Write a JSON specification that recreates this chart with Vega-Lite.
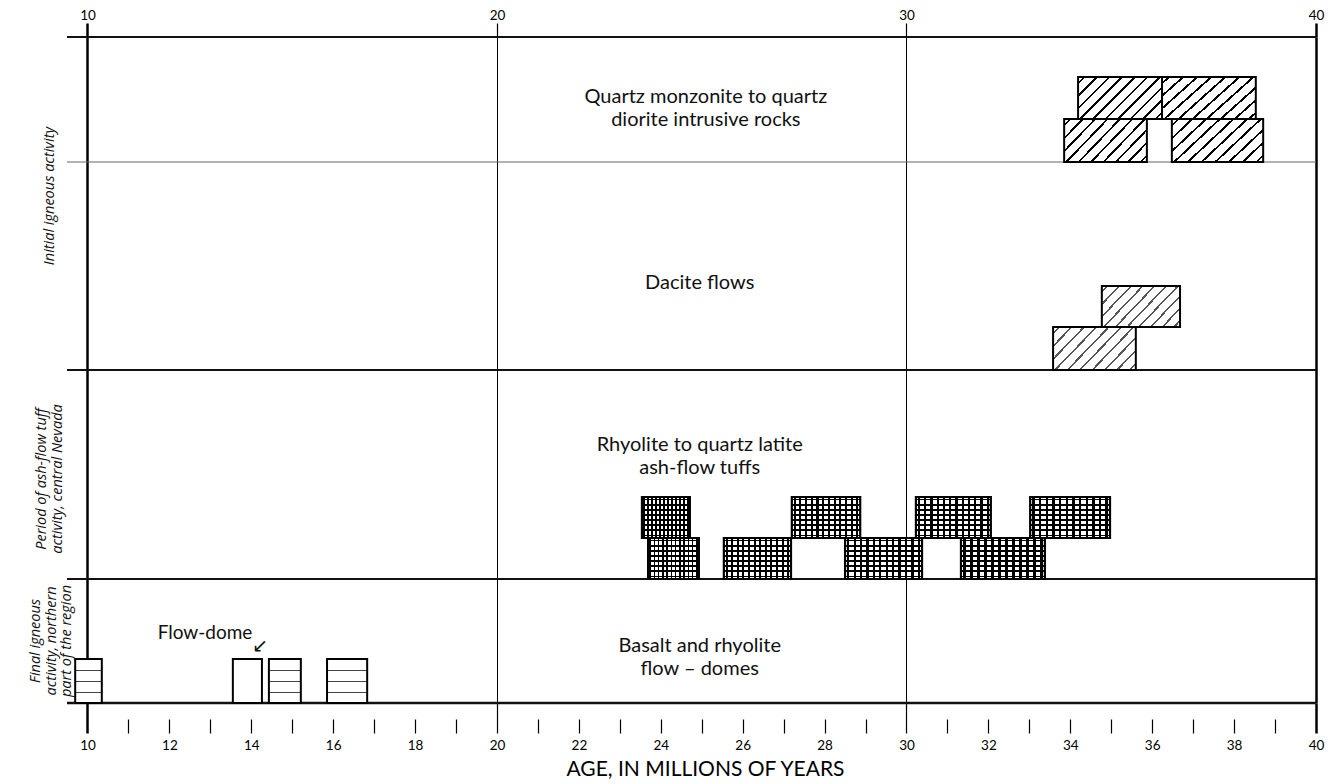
{
  "$schema": "https://vega.github.io/schema/vega-lite/v6.json",
  "width": 1249,
  "height": 666,
  "autosize": "none",
  "padding": {"left": 67, "top": 37, "right": 23, "bottom": 81},
  "background": "white",
  "config": {"view": {"stroke": null}, "font": "Lato"},
  "resolve": {"axis": {"x": "independent"}},
  "datasets": {
    "edges": [{"edge": 0}, {"edge": 124}, {"edge": 333}, {"edge": 541}, {"edge": 666}],
    "boxes": [
      {"rock": "quartz", "start": 34.19, "end": 36.24, "lo": 584, "hi": 626},
      {"rock": "quartz", "start": 36.24, "end": 38.53, "lo": 584, "hi": 626},
      {"rock": "quartz", "start": 33.85, "end": 35.87, "lo": 541, "hi": 584},
      {"rock": "quartz", "start": 36.48, "end": 38.71, "lo": 541, "hi": 584},
      {"rock": "dacite", "start": 34.77, "end": 36.68, "lo": 376, "hi": 417},
      {"rock": "dacite", "start": 33.58, "end": 35.6, "lo": 333, "hi": 376},
      {"rock": "ash", "start": 23.54, "end": 24.71, "lo": 165, "hi": 206},
      {"rock": "ash", "start": 27.2, "end": 28.87, "lo": 165, "hi": 206},
      {"rock": "ash", "start": 30.23, "end": 32.06, "lo": 165, "hi": 206},
      {"rock": "ash", "start": 33.02, "end": 34.97, "lo": 165, "hi": 206},
      {"rock": "ash", "start": 23.69, "end": 24.93, "lo": 124, "hi": 165},
      {"rock": "ash", "start": 25.54, "end": 27.18, "lo": 124, "hi": 165},
      {"rock": "ash", "start": 28.5, "end": 30.38, "lo": 124, "hi": 165},
      {"rock": "ash", "start": 31.33, "end": 33.38, "lo": 124, "hi": 165},
      {"rock": "final", "start": 9.7, "end": 10.35, "lo": 0, "hi": 44},
      {"rock": "final", "start": 14.43, "end": 15.21, "lo": 0, "hi": 44},
      {"rock": "final", "start": 15.85, "end": 16.83, "lo": 0, "hi": 44},
      {"rock": "dome", "start": 13.55, "end": 14.26, "lo": 0, "hi": 44}
    ],
    "regions": [
      {"text": ["Quartz monzonite to quartz", "diorite intrusive rocks"], "age": 25.1, "y": 606},
      {"text": ["Dacite flows"], "age": 24.95, "y": 420},
      {"text": ["Rhyolite to quartz latite", "ash-flow tuffs"], "age": 24.95, "y": 258},
      {"text": ["Basalt and rhyolite", "flow – domes"], "age": 24.95, "y": 57}
    ],
    "sides": [
      {"text": ["Initial igneous activity"], "age": 9.085, "y": 507},
      {"text": ["Period of ash-flow tuff", "activity, central Nevada"], "age": 8.9, "y": 224},
      {"text": ["Final igneous", "activity, northern", "part of the region"], "age": 8.743, "y": 62}
    ],
    "callout": [{"text": "Flow-dome", "age": 12.87, "y": 70}],
    "arrow": [{"text": "↙", "age": 14.22, "y": 57}]
  },
  "layer": [
    {
      "data": {"name": "edges"},
      "mark": {"type": "rule"},
      "encoding": {
        "y": {"field": "edge", "type": "quantitative", "scale": {"domain": [0, 666], "nice": false, "zero": false}, "axis": null},
        "strokeWidth": {"condition": [{"test": "datum.edge === 541", "value": 1.2}, {"test": "datum.edge === 0", "value": 2.5}], "value": 1.8},
        "color": {"condition": {"test": "datum.edge === 541", "value": "#666"}, "value": "#111"}
      }
    },
    {
      "data": {"name": "boxes"},
      "transform": [{"filter": "datum.rock === 'quartz'"}],
      "mark": {
        "type": "rect", "stroke": "#000", "strokeWidth": 2,
        "fill": {"gradient": "linear", "x1": 0, "y1": 0, "x2": 1.2, "y2": 0.6, "stops": [
          {"offset": 0, "color": "#fff"},
          {"offset": 0.04, "color": "#fff"}, {"offset": 0.04, "color": "#000"}, {"offset": 0.06, "color": "#000"}, {"offset": 0.06, "color": "#fff"},
          {"offset": 0.14, "color": "#fff"}, {"offset": 0.14, "color": "#000"}, {"offset": 0.16, "color": "#000"}, {"offset": 0.16, "color": "#fff"},
          {"offset": 0.24, "color": "#fff"}, {"offset": 0.24, "color": "#000"}, {"offset": 0.26, "color": "#000"}, {"offset": 0.26, "color": "#fff"},
          {"offset": 0.34, "color": "#fff"}, {"offset": 0.34, "color": "#000"}, {"offset": 0.36, "color": "#000"}, {"offset": 0.36, "color": "#fff"},
          {"offset": 0.44, "color": "#fff"}, {"offset": 0.44, "color": "#000"}, {"offset": 0.46, "color": "#000"}, {"offset": 0.46, "color": "#fff"},
          {"offset": 0.54, "color": "#fff"}, {"offset": 0.54, "color": "#000"}, {"offset": 0.56, "color": "#000"}, {"offset": 0.56, "color": "#fff"},
          {"offset": 0.64, "color": "#fff"}, {"offset": 0.64, "color": "#000"}, {"offset": 0.66, "color": "#000"}, {"offset": 0.66, "color": "#fff"},
          {"offset": 0.74, "color": "#fff"}, {"offset": 0.74, "color": "#000"}, {"offset": 0.76, "color": "#000"}, {"offset": 0.76, "color": "#fff"},
          {"offset": 0.84, "color": "#fff"}, {"offset": 0.84, "color": "#000"}, {"offset": 0.86, "color": "#000"}, {"offset": 0.86, "color": "#fff"},
          {"offset": 0.94, "color": "#fff"}, {"offset": 0.94, "color": "#000"}, {"offset": 0.96, "color": "#000"}, {"offset": 0.96, "color": "#fff"},
          {"offset": 1, "color": "#fff"}
        ]}
      },
      "encoding": {
        "x": {"field": "start", "type": "quantitative", "scale": {"domain": [9.5, 40], "nice": false, "zero": false},
          "axis": {
            "orient": "bottom",
            "values": [10, 11, 12, 13, 14, 15, 16, 17, 18, 19, 20, 21, 22, 23, 24, 25, 26, 27, 28, 29, 30, 31, 32, 33, 34, 35, 36, 37, 38, 39, 40],
            "domain": false, "grid": false,
            "tickSize": 30, "tickColor": "#000",
            "tickWidth": {"condition": {"test": "datum.value === 10 || datum.value === 40", "value": 2.5}, "value": 1.2},
            "tickDash": {"condition": {"test": "datum.value % 10 === 0", "value": []}, "value": [0, 16, 14]},
            "labelExpr": "datum.value % 2 === 0 ? datum.label : ''",
            "labelOverlap": false, "labelFlush": false,
            "labelFontSize": 13.5, "labelColor": "#000", "labelPadding": 5, "labelFont": "Lato",
            "title": "AGE, IN MILLIONS OF YEARS", "titleFont": "Lato", "titleFontSize": 21, "titleFontWeight": "normal",
            "titleColor": "#000", "titlePadding": 7, "titleX": 638
          }
        },
        "x2": {"field": "end"},
        "y": {"field": "lo", "type": "quantitative", "axis": null},
        "y2": {"field": "hi"}
      }
    },
    {
      "data": {"name": "boxes"},
      "transform": [{"filter": "datum.rock === 'dacite'"}],
      "mark": {
        "type": "rect", "stroke": "#000", "strokeWidth": 2,
        "fill": {"gradient": "linear", "x1": 0, "y1": 0, "x2": 1.2, "y2": 0.6, "stops": [
          {"offset": 0, "color": "#fff"},
          {"offset": 0.04, "color": "#fff"}, {"offset": 0.04, "color": "#555"}, {"offset": 0.058, "color": "#555"}, {"offset": 0.058, "color": "#fff"},
          {"offset": 0.14, "color": "#fff"}, {"offset": 0.14, "color": "#555"}, {"offset": 0.158, "color": "#555"}, {"offset": 0.158, "color": "#fff"},
          {"offset": 0.24, "color": "#fff"}, {"offset": 0.24, "color": "#555"}, {"offset": 0.258, "color": "#555"}, {"offset": 0.258, "color": "#fff"},
          {"offset": 0.34, "color": "#fff"}, {"offset": 0.34, "color": "#555"}, {"offset": 0.358, "color": "#555"}, {"offset": 0.358, "color": "#fff"},
          {"offset": 0.44, "color": "#fff"}, {"offset": 0.44, "color": "#555"}, {"offset": 0.458, "color": "#555"}, {"offset": 0.458, "color": "#fff"},
          {"offset": 0.54, "color": "#fff"}, {"offset": 0.54, "color": "#555"}, {"offset": 0.558, "color": "#555"}, {"offset": 0.558, "color": "#fff"},
          {"offset": 0.64, "color": "#fff"}, {"offset": 0.64, "color": "#555"}, {"offset": 0.658, "color": "#555"}, {"offset": 0.658, "color": "#fff"},
          {"offset": 0.74, "color": "#fff"}, {"offset": 0.74, "color": "#555"}, {"offset": 0.758, "color": "#555"}, {"offset": 0.758, "color": "#fff"},
          {"offset": 0.84, "color": "#fff"}, {"offset": 0.84, "color": "#555"}, {"offset": 0.858, "color": "#555"}, {"offset": 0.858, "color": "#fff"},
          {"offset": 0.94, "color": "#fff"}, {"offset": 0.94, "color": "#555"}, {"offset": 0.958, "color": "#555"}, {"offset": 0.958, "color": "#fff"},
          {"offset": 1, "color": "#fff"}
        ]}
      },
      "encoding": {
        "x": {"field": "start", "type": "quantitative",
          "axis": {
            "orient": "top", "values": [10, 20, 30, 40], "domain": false,
            "grid": true, "gridColor": "#000", "gridOpacity": 1,
            "gridWidth": {"condition": {"test": "datum.value === 10 || datum.value === 40", "value": 2.5}, "value": 1},
            "tickSize": 14, "tickColor": "#000",
            "tickWidth": {"condition": {"test": "datum.value === 10 || datum.value === 40", "value": 2.5}, "value": 1.2},
            "labelFontSize": 13.5, "labelPadding": 1, "labelColor": "#000", "labelFont": "Lato", "labelFlush": false,
            "title": null
          }
        },
        "x2": {"field": "end"},
        "y": {"field": "lo", "type": "quantitative", "axis": null},
        "y2": {"field": "hi"}
      }
    },
    {
      "data": {"name": "boxes"},
      "transform": [{"filter": "datum.rock === 'ash'"}],
      "mark": {
        "type": "rect", "strokeWidth": 0,
        "fill": {"gradient": "linear", "x1": 0, "y1": 0, "x2": 1, "y2": 0, "stops": [
          {"offset": 0, "color": "#fff"},
          {"offset": 0.027, "color": "#fff"}, {"offset": 0.027, "color": "#000"}, {"offset": 0.057, "color": "#000"}, {"offset": 0.057, "color": "#fff"},
          {"offset": 0.11, "color": "#fff"}, {"offset": 0.11, "color": "#000"}, {"offset": 0.14, "color": "#000"}, {"offset": 0.14, "color": "#fff"},
          {"offset": 0.193, "color": "#fff"}, {"offset": 0.193, "color": "#000"}, {"offset": 0.223, "color": "#000"}, {"offset": 0.223, "color": "#fff"},
          {"offset": 0.277, "color": "#fff"}, {"offset": 0.277, "color": "#000"}, {"offset": 0.307, "color": "#000"}, {"offset": 0.307, "color": "#fff"},
          {"offset": 0.36, "color": "#fff"}, {"offset": 0.36, "color": "#000"}, {"offset": 0.39, "color": "#000"}, {"offset": 0.39, "color": "#fff"},
          {"offset": 0.443, "color": "#fff"}, {"offset": 0.443, "color": "#000"}, {"offset": 0.473, "color": "#000"}, {"offset": 0.473, "color": "#fff"},
          {"offset": 0.527, "color": "#fff"}, {"offset": 0.527, "color": "#000"}, {"offset": 0.557, "color": "#000"}, {"offset": 0.557, "color": "#fff"},
          {"offset": 0.61, "color": "#fff"}, {"offset": 0.61, "color": "#000"}, {"offset": 0.64, "color": "#000"}, {"offset": 0.64, "color": "#fff"},
          {"offset": 0.693, "color": "#fff"}, {"offset": 0.693, "color": "#000"}, {"offset": 0.723, "color": "#000"}, {"offset": 0.723, "color": "#fff"},
          {"offset": 0.777, "color": "#fff"}, {"offset": 0.777, "color": "#000"}, {"offset": 0.807, "color": "#000"}, {"offset": 0.807, "color": "#fff"},
          {"offset": 0.86, "color": "#fff"}, {"offset": 0.86, "color": "#000"}, {"offset": 0.89, "color": "#000"}, {"offset": 0.89, "color": "#fff"},
          {"offset": 0.943, "color": "#fff"}, {"offset": 0.943, "color": "#000"}, {"offset": 0.973, "color": "#000"}, {"offset": 0.973, "color": "#fff"},
          {"offset": 1, "color": "#fff"}
        ]}
      },
      "encoding": {
        "x": {"field": "start", "type": "quantitative", "axis": null},
        "x2": {"field": "end"},
        "y": {"field": "lo", "type": "quantitative", "axis": null},
        "y2": {"field": "hi"}
      }
    },
    {
      "data": {"name": "boxes"},
      "transform": [{"filter": "datum.rock === 'ash'"}],
      "mark": {
        "type": "rect", "stroke": "#000", "strokeWidth": 2.2,
        "fill": {"gradient": "linear", "x1": 0, "y1": 0, "x2": 0, "y2": 1, "stops": [
          {"offset": 0, "color": "rgba(0,0,0,0)"},
          {"offset": 0.04, "color": "rgba(0,0,0,0)"}, {"offset": 0.04, "color": "#000"}, {"offset": 0.085, "color": "#000"}, {"offset": 0.085, "color": "rgba(0,0,0,0)"},
          {"offset": 0.165, "color": "rgba(0,0,0,0)"}, {"offset": 0.165, "color": "#000"}, {"offset": 0.21, "color": "#000"}, {"offset": 0.21, "color": "rgba(0,0,0,0)"},
          {"offset": 0.29, "color": "rgba(0,0,0,0)"}, {"offset": 0.29, "color": "#000"}, {"offset": 0.335, "color": "#000"}, {"offset": 0.335, "color": "rgba(0,0,0,0)"},
          {"offset": 0.415, "color": "rgba(0,0,0,0)"}, {"offset": 0.415, "color": "#000"}, {"offset": 0.46, "color": "#000"}, {"offset": 0.46, "color": "rgba(0,0,0,0)"},
          {"offset": 0.54, "color": "rgba(0,0,0,0)"}, {"offset": 0.54, "color": "#000"}, {"offset": 0.585, "color": "#000"}, {"offset": 0.585, "color": "rgba(0,0,0,0)"},
          {"offset": 0.665, "color": "rgba(0,0,0,0)"}, {"offset": 0.665, "color": "#000"}, {"offset": 0.71, "color": "#000"}, {"offset": 0.71, "color": "rgba(0,0,0,0)"},
          {"offset": 0.79, "color": "rgba(0,0,0,0)"}, {"offset": 0.79, "color": "#000"}, {"offset": 0.835, "color": "#000"}, {"offset": 0.835, "color": "rgba(0,0,0,0)"},
          {"offset": 0.915, "color": "rgba(0,0,0,0)"}, {"offset": 0.915, "color": "#000"}, {"offset": 0.96, "color": "#000"}, {"offset": 0.96, "color": "rgba(0,0,0,0)"},
          {"offset": 1, "color": "rgba(0,0,0,0)"}
        ]}
      },
      "encoding": {
        "x": {"field": "start", "type": "quantitative", "axis": null},
        "x2": {"field": "end"},
        "y": {"field": "lo", "type": "quantitative", "axis": null},
        "y2": {"field": "hi"}
      }
    },
    {
      "data": {"name": "boxes"},
      "transform": [{"filter": "datum.rock === 'final'"}],
      "mark": {
        "type": "rect", "stroke": "#000", "strokeWidth": 2,
        "fill": {"gradient": "linear", "x1": 0, "y1": 0, "x2": 0, "y2": 1, "stops": [
          {"offset": 0, "color": "#fff"},
          {"offset": 0.24, "color": "#fff"}, {"offset": 0.24, "color": "#444"}, {"offset": 0.265, "color": "#444"}, {"offset": 0.265, "color": "#fff"},
          {"offset": 0.49, "color": "#fff"}, {"offset": 0.49, "color": "#444"}, {"offset": 0.515, "color": "#444"}, {"offset": 0.515, "color": "#fff"},
          {"offset": 0.74, "color": "#fff"}, {"offset": 0.74, "color": "#444"}, {"offset": 0.765, "color": "#444"}, {"offset": 0.765, "color": "#fff"},
          {"offset": 1, "color": "#fff"}
        ]}
      },
      "encoding": {
        "x": {"field": "start", "type": "quantitative", "axis": null},
        "x2": {"field": "end"},
        "y": {"field": "lo", "type": "quantitative", "axis": null},
        "y2": {"field": "hi"}
      }
    },
    {
      "data": {"name": "boxes"},
      "transform": [{"filter": "datum.rock === 'dome'"}],
      "mark": {"type": "rect", "stroke": "#000", "strokeWidth": 2, "fill": "#fff"},
      "encoding": {
        "x": {"field": "start", "type": "quantitative", "axis": null},
        "x2": {"field": "end"},
        "y": {"field": "lo", "type": "quantitative", "axis": null},
        "y2": {"field": "hi"}
      }
    },
    {
      "data": {"name": "regions"},
      "mark": {"type": "text", "align": "center", "baseline": "middle", "font": "Lato", "fontSize": 20, "lineHeight": 23, "color": "#111"},
      "encoding": {
        "x": {"field": "age", "type": "quantitative", "axis": null},
        "y": {"field": "y", "type": "quantitative", "axis": null},
        "text": {"field": "text"}
      }
    },
    {
      "data": {"name": "sides"},
      "mark": {"type": "text", "align": "center", "baseline": "middle", "angle": 270, "font": "Open Sans", "fontStyle": "italic", "fontSize": 14.5, "lineHeight": 15.5, "color": "#111"},
      "encoding": {
        "x": {"field": "age", "type": "quantitative", "axis": null},
        "y": {"field": "y", "type": "quantitative", "axis": null},
        "text": {"field": "text"}
      }
    },
    {
      "data": {"name": "callout"},
      "mark": {"type": "text", "align": "center", "baseline": "middle", "font": "Lato", "fontSize": 19, "color": "#111"},
      "encoding": {
        "x": {"field": "age", "type": "quantitative", "axis": null},
        "y": {"field": "y", "type": "quantitative", "axis": null},
        "text": {"field": "text"}
      }
    },
    {
      "data": {"name": "arrow"},
      "mark": {"type": "text", "align": "center", "baseline": "middle", "font": "DejaVu Sans", "fontSize": 19, "color": "#111"},
      "encoding": {
        "x": {"field": "age", "type": "quantitative", "axis": null},
        "y": {"field": "y", "type": "quantitative", "axis": null},
        "text": {"field": "text"}
      }
    }
  ]
}
